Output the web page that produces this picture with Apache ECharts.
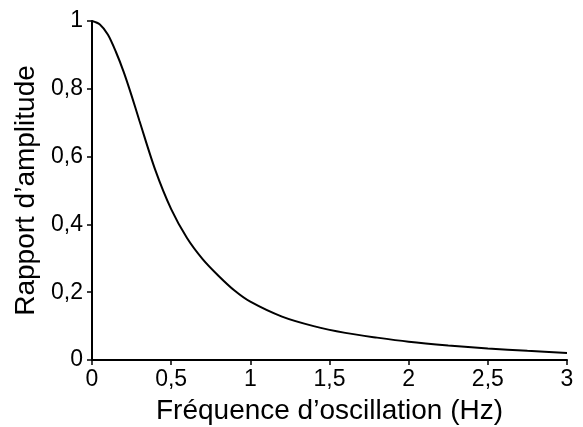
<!DOCTYPE html>
<html>
<head>
<meta charset="utf-8">
<script src="https://cdn.jsdelivr.net/npm/echarts@6/dist/echarts.min.js"></script>
<style>
html,body{margin:0;padding:0;background:#fff;}
#chart{width:583px;height:427px;}
</style>
</head>
<body>
<div id="chart"></div>
<script>
const freq = [0, 0.05, 0.1, 0.15, 0.2, 0.25, 0.3, 0.4, 0.5, 0.6, 0.7, 0.8, 0.9, 1.0, 1.2, 1.4, 1.6, 1.8, 2.0, 2.25, 2.5, 2.75, 3.0];
const ratio = [1.0, 0.99, 0.96, 0.91, 0.85, 0.78, 0.705, 0.56, 0.445, 0.36, 0.297, 0.248, 0.205, 0.172, 0.128, 0.1, 0.08, 0.066, 0.054, 0.043, 0.034, 0.027, 0.021];
const xName = 'Fréquence d\u2019oscillation (Hz)';
const yName = 'Rapport d\u2019amplitude';

const fmt = v => String(v).replace('.', ',');
const font = '"Liberation Sans", Arial, sans-serif';
const chart = echarts.init(document.getElementById('chart'));
chart.setOption({
  animation: false,
  grid: {left: 92, right: 16, top: 21, bottom: 67, containLabel: false, outerBoundsMode: 'none'},
  xAxis: {
    type: 'value', min: 0, max: 3, interval: 0.5,
    name: xName, nameLocation: 'middle', nameGap: 37,
    nameTextStyle: {fontFamily: font, fontSize: 28, color: '#000'},
    axisLine: {show: true, lineStyle: {color: '#000', width: 2}},
    axisTick: {show: true, length: 5, lineStyle: {color: '#000', width: 1.5}},
    axisLabel: {formatter: fmt, fontFamily: font, fontSize: 23, color: '#000', margin: 8},
    splitLine: {show: false}
  },
  yAxis: {
    type: 'value', min: 0, max: 1, interval: 0.2,
    name: yName, nameLocation: 'middle', nameGap: 52,
    nameTextStyle: {fontFamily: font, fontSize: 28, color: '#000'},
    axisLine: {show: true, lineStyle: {color: '#000', width: 2}},
    axisTick: {show: true, length: 5, lineStyle: {color: '#000', width: 1.5}},
    axisLabel: {formatter: fmt, fontFamily: font, fontSize: 23, color: '#000', margin: 9},
    splitLine: {show: false}
  },
  series: [{
    type: 'line',
    data: freq.map((f, i) => [f, ratio[i]]),
    showSymbol: false,
    smooth: 0.3,
    lineStyle: {color: '#000', width: 2}
  }]
});
</script>
</body>
</html>
